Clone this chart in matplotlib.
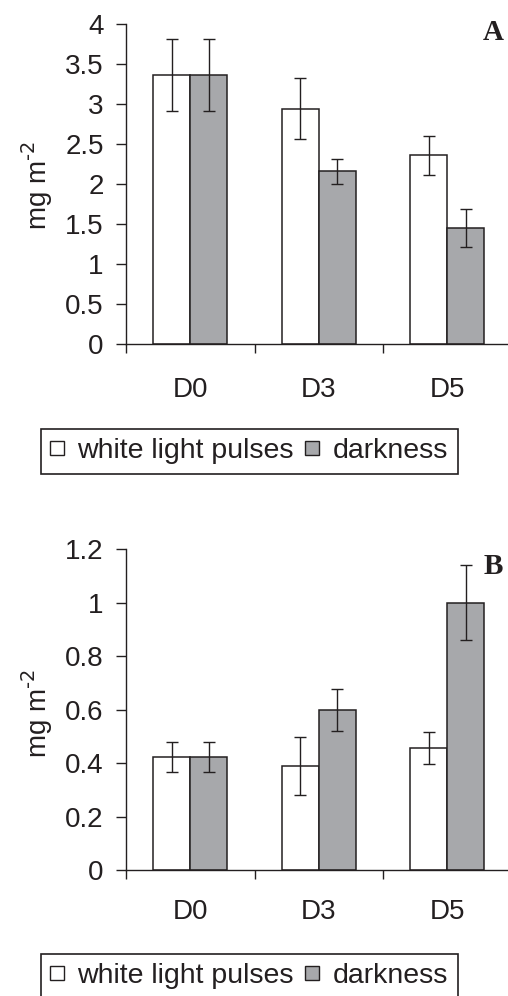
import matplotlib
matplotlib.use("Agg")
import matplotlib.pyplot as plt
import numpy as np
from matplotlib.lines import Line2D

plt.rcParams['font.family'] = ['Liberation Sans', 'DejaVu Sans']
plt.rcParams['mathtext.default'] = 'regular'

categories = ["D0", "D3", "D5"]
series = ["white light pulses", "darkness"]

a_light = [3.36, 2.94, 2.36]
a_light_err = [0.45, 0.38, 0.245]
a_dark = [3.36, 2.16, 1.45]
a_dark_err = [0.45, 0.155, 0.24]

b_light = [0.423, 0.389, 0.457]
b_light_err = [0.057, 0.11, 0.06]
b_dark = [0.423, 0.599, 1.0]
b_dark_err = [0.057, 0.08, 0.14]

a_ticks = [0, 0.5, 1, 1.5, 2, 2.5, 3, 3.5, 4]
a_ticklabels = ["0", "0.5", "1", "1.5", "2", "2.5", "3", "3.5", "4"]
b_ticks = [0, 0.2, 0.4, 0.6, 0.8, 1.0, 1.2]
b_ticklabels = ["0", "0.2", "0.4", "0.6", "0.8", "1", "1.2"]

W, H = 508, 996
DPI = 100
fig = plt.figure(figsize=(W / DPI, H / DPI), dpi=DPI)

EDGE = "#231f20"
GRAY = "#a7a8ab"
FS = 20

def px_axes(x0, y_top, width, height):
    return fig.add_axes([x0 / W, 1 - (y_top + height) / H, width / W, height / H])

def draw_panel(ax, light, light_err, dark, dark_err, ymax, ticks, ticklabels, xpad):
    x = np.arange(len(categories))
    bw = 37 / 128.5
    ax.bar(x - bw / 2, light, bw, color="white", edgecolor=EDGE, linewidth=1.1, zorder=2)
    ax.bar(x + bw / 2, dark, bw, color=GRAY, edgecolor=EDGE, linewidth=1.1, zorder=2)
    ax.errorbar(x - bw / 2, light, yerr=light_err, fmt="none", ecolor=EDGE,
                elinewidth=1.0, capsize=4.3, capthick=1.0, zorder=3)
    ax.errorbar(x + bw / 2, dark, yerr=dark_err, fmt="none", ecolor=EDGE,
                elinewidth=1.0, capsize=4.3, capthick=1.0, zorder=3)
    ax.set_xlim(-0.5, 2.5)
    ax.set_ylim(0, ymax)
    ax.set_yticks(ticks)
    ax.set_yticklabels(ticklabels)
    ax.set_xticks([-0.5, 0.5, 1.5, 2.5])
    ax.set_xticklabels([])
    ax.set_xticks(x, minor=True)
    ax.set_xticklabels(categories, minor=True)
    ax.tick_params(axis="x", which="major", length=6.5, width=1.0, color=EDGE, direction="out")
    ax.tick_params(axis="x", which="minor", length=0, pad=xpad, labelsize=FS, labelcolor=EDGE)
    ax.tick_params(axis="y", length=7, width=1.0, color=EDGE, direction="out", pad=9,
                   labelsize=FS, labelcolor=EDGE)
    for s in ["top", "right"]:
        ax.spines[s].set_visible(False)
    for s in ["left", "bottom"]:
        ax.spines[s].set_color(EDGE)
        ax.spines[s].set_linewidth(1.0)

axA = px_axes(126, 24, 385.5, 320)
draw_panel(axA, a_light, a_light_err, a_dark, a_dark_err, 4, a_ticks, a_ticklabels, 24)
axB = px_axes(126, 549.3, 385.5, 320.7)
draw_panel(axB, b_light, b_light_err, b_dark, b_dark_err, 1.2, b_ticks, b_ticklabels, 21)

fig.text(493 / W, 1 - 32 / H, "A", family="Liberation Serif", weight="bold", fontsize=21,
         ha="center", va="center", color=EDGE)
fig.text(493 / W, 1 - 567 / H, "B", family="Liberation Serif", weight="bold", fontsize=21,
         ha="center", va="center", color=EDGE)

ylab = r"mg m$^{\text{-2}}$"
fig.text(37 / W, 1 - 185 / H, ylab, rotation=90, ha="center", va="center",
         fontsize=FS, color=EDGE)
fig.text(37 / W, 1 - 713 / H, ylab, rotation=90, ha="center", va="center",
         fontsize=FS, color=EDGE)

handles = [Line2D([], [], linestyle="none", marker="s", markersize=10,
                  markerfacecolor="white", markeredgecolor=EDGE, markeredgewidth=1.0),
           Line2D([], [], linestyle="none", marker="s", markersize=10,
                  markerfacecolor=GRAY, markeredgecolor=EDGE, markeredgewidth=1.0)]

def add_legend(y_top):
    leg = fig.legend(handles, series, loc="upper left",
                     bbox_to_anchor=(41 / W, 1 - y_top / H), bbox_transform=fig.transFigure,
                     ncol=2, fontsize=20.5, frameon=True, fancybox=False,
                     handlelength=0.45, handletextpad=0.5,
                     columnspacing=0.42, borderpad=0.33, borderaxespad=0)
    fr = leg.get_frame()
    fr.set_edgecolor(EDGE)
    fr.set_linewidth(1.2)
    fr.set_alpha(1)
    for t in leg.get_texts():
        t.set_color(EDGE)
    return leg

add_legend(429)
add_legend(954)

fig.savefig("out.png", dpi=DPI)
